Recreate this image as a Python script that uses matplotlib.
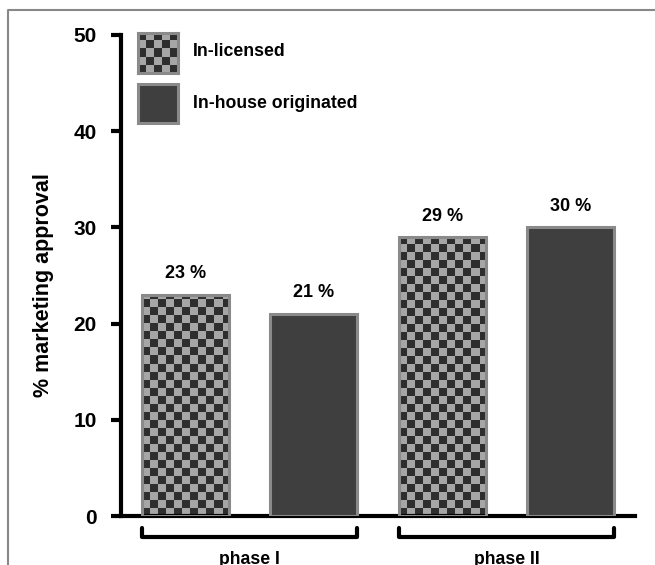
import numpy as np
import matplotlib
matplotlib.use("Agg")
import matplotlib.pyplot as plt
from matplotlib.patches import Rectangle
from matplotlib.lines import Line2D

# data
phases = ["phase I", "phase II"]
series = ["In-licensed", "In-house originated"]
in_licensed = [23, 29]
in_house = [21, 30]
yticks = [0, 10, 20, 30, 40, 50]

plt.rcParams["font.family"] = ["Liberation Sans", "DejaVu Sans"]
plt.rcParams["font.weight"] = "bold"

W, H = 655, 565
fig = plt.figure(figsize=(W / 100, H / 100), dpi=100)


def fx(px):
    return px / W


def fy(py):
    return 1 - py / H


ax = fig.add_axes([fx(121), fy(516), (635 - 121) / W, (516 - 35) / H])

dark = "#2e2e2e"
light = "#a6a6a6"
solid = "#3f3f3f"
edge = "#8a8a8a"
bw = 0.68

# two bars per phase, in-licensed first
values, kinds = [], []
for a, b in zip(in_licensed, in_house):
    values += [a, b]
    kinds += ["check", "solid"]
x = np.arange(len(values)) + 0.5

ax.set_xlim(0, len(values))
ax.set_ylim(0, 50)

# pixels per data unit, for square checker cells
bbox = ax.get_position()
ppx = bbox.width * W / len(values)
ppy = bbox.height * H / 50
cell_px = 8.0
cw, ch = cell_px / ppx, cell_px / ppy


def checker(nx, ny):
    return (np.indices((ny, nx)).sum(axis=0) % 2).astype(float)


cmap = matplotlib.colors.ListedColormap([dark, light])

for xi, v, k in zip(x, values, kinds):
    fc = "none" if k == "check" else solid
    bar = ax.bar(xi, v, width=bw, color=fc, edgecolor=edge, linewidth=2.2, zorder=3)[0]
    if k == "check":
        nx = int(np.ceil(bw / cw)) + 1
        ny = int(np.ceil(v / ch)) + 1
        im = ax.imshow(checker(nx, ny), cmap=cmap, origin="lower", aspect="auto",
                       interpolation="nearest",
                       extent=[xi - bw / 2, xi - bw / 2 + nx * cw, 0, ny * ch], zorder=2)
        im.set_clip_path(bar)
    ax.annotate(f"{v} %", (xi, v), xytext=(0, 9), textcoords="offset points",
                ha="center", va="bottom", fontsize=13, fontweight="bold")

ax.set_xlim(0, len(values))
ax.set_ylim(0, 50)

for s in ["top", "right"]:
    ax.spines[s].set_visible(False)
for s in ["left", "bottom"]:
    ax.spines[s].set_linewidth(3)
ax.set_xticks([])
ax.set_yticks(yticks)
ax.tick_params(axis="y", length=7.5, width=3, pad=10, labelsize=15)
for t in ax.get_yticklabels():
    t.set_fontweight("bold")
ax.set_ylabel("% marketing approval", fontsize=15.5, fontweight="bold")
ax.yaxis.set_label_coords(-0.13, 0.48)

# phase brackets under the axis
for i, name in enumerate(phases):
    x0 = x[2 * i] - bw / 2
    x1 = x[2 * i + 1] + bw / 2
    ax.plot([x0, x0, x1, x1], [-1.2, -2.2, -2.2, -1.2], color="black", lw=3,
            solid_joinstyle="round", solid_capstyle="round", clip_on=False)
    ax.text((x0 + x1) / 2, -4.5, name, ha="center", va="center", fontsize=12.7,
            fontweight="bold", clip_on=False)

# legend swatches
lg1 = fig.add_axes([fx(138), fy(73), 40 / W, 40 / H])
lg1.imshow(checker(5, 5), cmap=cmap, interpolation="nearest", aspect="auto")
lg1.set_xticks([])
lg1.set_yticks([])
for s in lg1.spines.values():
    s.set_color(edge)
    s.set_linewidth(2.2)
fig.patches.append(Rectangle((fx(138), fy(123)), 40 / W, 39 / H, transform=fig.transFigure,
                             facecolor=solid, edgecolor=edge, linewidth=2.2))
fig.text(fx(193), fy(52), series[0], ha="left", va="center", fontsize=12.7, fontweight="bold")
fig.text(fx(193), fy(103), series[1], ha="left", va="center", fontsize=12.7, fontweight="bold")

# frame around the figure (left and top edges show)
fig.add_artist(Line2D([fx(8), fx(8), 1.0], [0.0, fy(10), fy(10)],
                      transform=fig.transFigure, color="#888888", lw=1.5))

fig.savefig("out.png", dpi=100)
